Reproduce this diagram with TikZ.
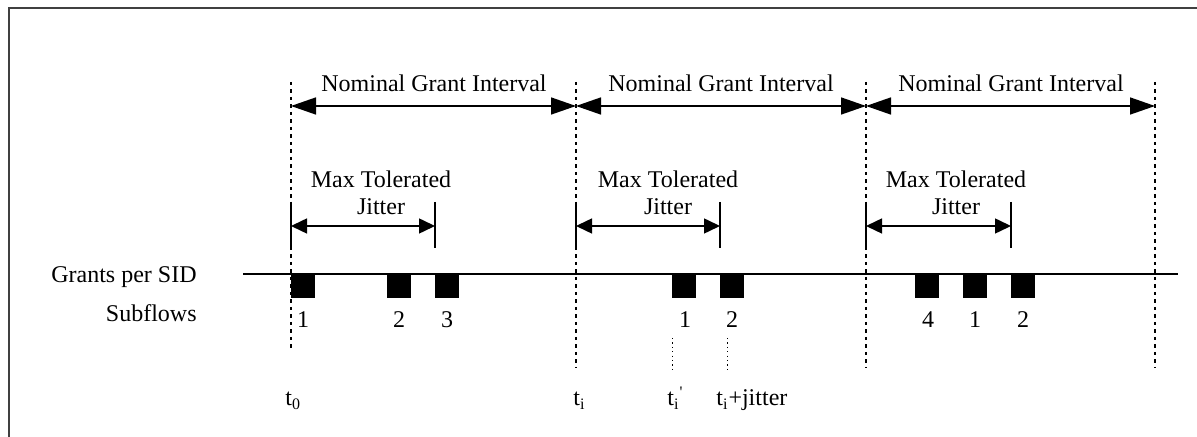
\documentclass[tikz,border=0pt]{standalone}
\usepackage{fontspec}
\setmainfont{Liberation Serif}
\usetikzlibrary{arrows.meta, positioning}

\begin{document}
\begin{tikzpicture}[x=0.5pt, y=-0.5pt,
    every node/.style={font=\fontsize{12}{13.5}\selectfont, inner sep=0pt},
    interval arrow/.style={line width=0.75pt, {Triangle[length=12.5pt, width=8.5pt]}-{Triangle[length=12.5pt, width=8.5pt]}},
    jitter arrow/.style={line width=0.75pt, {Triangle[length=8pt, width=7.5pt]}-{Triangle[length=8pt, width=7.5pt]}},
    bound line/.style={line width=1.1pt, dash pattern=on 1.75pt off 2pt},
    tick line/.style={line width=0.75pt},
    mark line/.style={line width=0.5pt, dash pattern=on 0.6pt off 1.6pt},
    grant box/.style={fill=black, minimum size=12pt, anchor=north west}]
    \useasboundingbox (0,0) rectangle (1197,437);
    \draw[line width=1pt, black!75] (9,437) -- (9,8) -- (1197,8);

    % interval bounds
    \coordinate (b0top) at (291,82);  \coordinate (b0bot) at (291,350);
    \coordinate (b1top) at (576,82);  \coordinate (b1bot) at (576,368);
    \coordinate (b2top) at (866,82);  \coordinate (b2bot) at (866,368);
    \coordinate (b3top) at (1155,82); \coordinate (b3bot) at (1155,368);
    \draw[bound line] (b0top) -- (b0bot);
    \draw[bound line] (b1top) -- (b1bot);
    \draw[bound line] (b2top) -- (b2bot);
    \draw[bound line] (b3top) -- (b3bot);

    % nominal grant intervals
    \coordinate (n0) at (291,106);
    \coordinate (n1) at (576,106);
    \coordinate (n2) at (866,106);
    \coordinate (n3) at (1155,106);
    \draw[interval arrow] (n0) -- (n1);
    \draw[interval arrow] (n1) -- (n2);
    \draw[interval arrow] (n2) -- (n3);
    \node[anchor=base] (nom1) at (434,92) {Nominal Grant Interval};
    \node[anchor=base] (nom2) at (721,92) {Nominal Grant Interval};
    \node[anchor=base] (nom3) at (1011,92) {Nominal Grant Interval};

    % max tolerated jitter
    \coordinate (j1a) at (291,226); \coordinate (j1b) at (435,226);
    \coordinate (j2a) at (576,226); \coordinate (j2b) at (720,226);
    \coordinate (j3a) at (866,226); \coordinate (j3b) at (1011,226);
    \draw[tick line] (291,202) -- (291,248);
    \draw[tick line] (435,202) -- (435,248);
    \draw[tick line] (576,202) -- (576,248);
    \draw[tick line] (720,202) -- (720,248);
    \draw[tick line] (866,202) -- (866,248);
    \draw[tick line] (1011,202) -- (1011,248);
    \draw[jitter arrow] (j1a) -- (j1b);
    \draw[jitter arrow] (j2a) -- (j2b);
    \draw[jitter arrow] (j3a) -- (j3b);
    \node[align=center, anchor=north] (mtj1) at (381,170) {Max Tolerated\\Jitter};
    \node[align=center, anchor=north] (mtj2) at (668,170) {Max Tolerated\\Jitter};
    \node[align=center, anchor=north] (mtj3) at (956,170) {Max Tolerated\\Jitter};

    % grants
    \node[anchor=base east] (grants) at (197,283) {Grants per SID};
    \node[anchor=base east] (subflows) at (197,322) {Subflows};
    \coordinate (gstart) at (243,274);
    \coordinate (gend) at (1178,274);
    \draw[line width=0.8pt] (gstart) -- (gend);

    \node[grant box] (g1) at (291,274) {};
    \node[grant box] (g2) at (387,274) {};
    \node[grant box] (g3) at (435,274) {};
    \node[grant box] (g4) at (672,274) {};
    \node[grant box] (g5) at (720,274) {};
    \node[grant box] (g6) at (915,274) {};
    \node[grant box] (g7) at (963,274) {};
    \node[grant box] (g8) at (1011,274) {};
    \node[anchor=base] (s1) at (303,328) {1};
    \node[anchor=base] (s2) at (399,328) {2};
    \node[anchor=base] (s3) at (447,328) {3};
    \node[anchor=base] (s4) at (685,328) {1};
    \node[anchor=base] (s5) at (732,328) {2};
    \node[anchor=base] (s6) at (928,328) {4};
    \node[anchor=base] (s7) at (975,328) {1};
    \node[anchor=base] (s8) at (1023,328) {2};

    % time marks
    \coordinate (m1top) at (672,338); \coordinate (m1bot) at (672,370);
    \coordinate (m2top) at (727,338); \coordinate (m2bot) at (727,370);
    \draw[mark line] (m1top) -- (m1bot);
    \draw[mark line] (m2top) -- (m2bot);
    \node[anchor=base west] (t0) at (285,406) {t\textsubscript{0}};
    \node[anchor=base west] (ti) at (573,406) {t\textsubscript{i}};
    \node[anchor=base west] (tip) at (667,406) {t\textsubscript{i}\textsuperscript{\textquotesingle}};
    \node[anchor=base west] (tij) at (716,406) {t\textsubscript{i}+jitter};
\end{tikzpicture}
\end{document}
